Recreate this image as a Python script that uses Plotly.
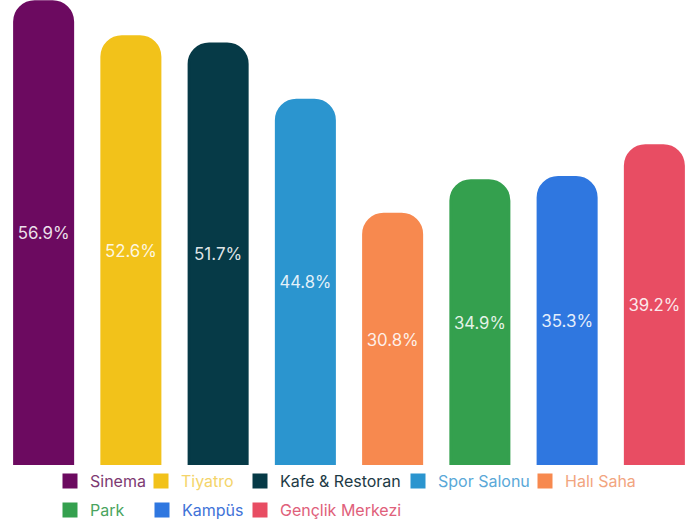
import plotly.graph_objects as go

categories = ["Sinema", "Tiyatro", "Kafe & Restoran", "Spor Salonu", "Halı Saha",
              "Park", "Kampüs", "Gençlik Merkezi"]
values = [56.9, 52.6, 51.7, 44.8, 30.8, 34.9, 35.3, 39.2]
bar_colors = ["#6C0A60", "#F2C21A", "#063A47", "#2B95CF", "#F7894F",
              "#34A04E", "#2F77E0", "#E84D63"]
text_colors = ["#7d3a72", "#f4d46a", "#1d3a45", "#5aa8d8", "#f2a57f",
               "#4aa460", "#3f73d8", "#e0607a"]

# legend placement (pixels from left of plot area / row centre from top)
legend_x_px = [50, 141, 240, 398, 525, 50, 142, 240]
legend_row = [0, 0, 0, 0, 0, 1, 1, 1]
row_y_px = [481, 510]

W, H = 700, 525
ml, mr, mt, mb = 0, 2, 0, 60
pw = W - ml - mr
ph = H - mt - mb

fig = go.Figure()
layout_legends = {}
for i, (cat, val, bc, tc) in enumerate(zip(categories, values, bar_colors, text_colors)):
    lname = "legend" if i == 0 else f"legend{i+1}"
    # the bar itself
    fig.add_trace(go.Bar(
        x=[cat], y=[val], name=cat,
        marker=dict(color=bc, line=dict(color=bc, width=3), cornerradius=20),
        texttemplate="%{y:.1f}%", textposition="inside",
        insidetextanchor="middle", textangle=0,
        textfont=dict(color="rgba(255,255,255,0.88)", size=17, family="Inter"),
        showlegend=False,
    ))
    # legend entry (square swatch)
    fig.add_trace(go.Bar(
        x=[None], y=[None], name=cat,
        marker=dict(color=bc, line=dict(color=bc, width=3)),
        legend=lname, showlegend=True, hoverinfo="skip",
    ))
    layout_legends[lname] = dict(
        x=legend_x_px[i] / pw, xanchor="left",
        y=-(row_y_px[legend_row[i]] - (mt + ph)) / ph, yanchor="middle",
        orientation="h", font=dict(color=tc, size=16, family="Inter"),
        bgcolor="rgba(0,0,0,0)", borderwidth=0,
    )

fig.update_layout(
    width=W, height=H,
    margin=dict(l=ml, r=mr, t=mt, b=mb, autoexpand=False),
    paper_bgcolor="white", plot_bgcolor="white",
    barmode="overlay", bargap=0.335,
    xaxis=dict(visible=False, categoryorder="array", categoryarray=categories),
    yaxis=dict(visible=False, range=[0, 57.1]),
    **layout_legends,
)

fig.write_html("out.html", config={"displayModeBar": False},
               post_script="document.body.style.margin='0';document.body.style.overflow='hidden';")
